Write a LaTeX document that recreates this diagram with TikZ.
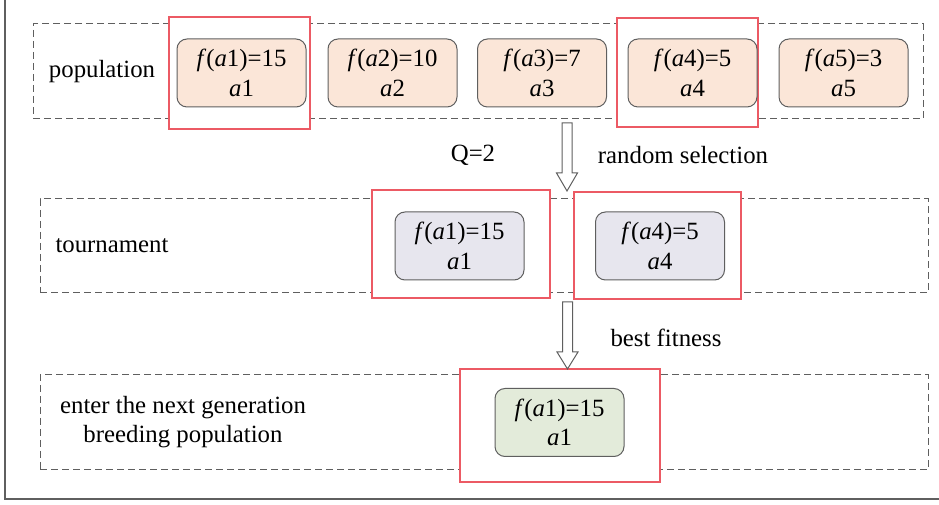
\documentclass[tikz,border=0pt]{standalone}
\usepackage{fontspec}
\setmainfont{Liberation Serif}
\usetikzlibrary{fit}
\definecolor{redline}{RGB}{236,90,100}
\definecolor{peach}{RGB}{251,230,216}
\definecolor{lav}{RGB}{231,230,238}
\definecolor{sage}{RGB}{227,235,218}
\definecolor{framegray}{RGB}{95,95,95}
\newcommand{\fsz}{\fontsize{18.6}{22}\selectfont}
\newcommand{\fv}[2]{\textit{f}(\textit{a}#1)=#2\\\textit{a}#1}
\tikzset{
  dashbox/.style={draw=framegray, dash pattern=on 5.25pt off 3pt, line width=0.75pt, inner sep=0pt},
  redbox/.style={draw=redline, fill=white, line width=0.9pt, inner sep=0pt},
  indiv/.style={draw=framegray, rounded corners=7.5pt, line width=0.75pt, minimum width=96.75pt, minimum height=51pt, align=center, font=\fsz, inner sep=0pt},
  lbl/.style={font=\fsz, align=center, inner sep=0pt},
  blockarrow/.style={draw=framegray, fill=white, line width=0.75pt, line join=miter},
  outerline/.style={draw=framegray, line width=1.1pt}
}
\begin{document}
\begin{tikzpicture}[x=0.75pt,y=-0.75pt]
\useasboundingbox (0,0) rectangle (939,505);
% outer frame (left and bottom)
\draw[outerline] (5,0) -- (5,499) -- (939,499);
% dashed rows
\node[dashbox, fit={(33,24) (923,119)}] (poprow) {};
\node[dashbox, fit={(40,199) (928,293)}] (tourrow) {};
\node[dashbox, fit={(40,375) (928,470)}] (nextrow) {};
% red highlight boxes
\node[redbox, fit={(169,17) (310,129)}] (r1) {};
\node[redbox, fit={(617,18) (758,127)}] (r4) {};
\node[redbox, fit={(372,190) (550,298)}] (t1) {};
\node[redbox, fit={(574,192) (741,299)}] (t4) {};
\node[redbox, fit={(460,369) (660,482)}] (b1) {};
% population individuals
\node[indiv, fill=peach] (p1) at (241.5,73) {\fv{1}{15}};
\node[indiv, fill=peach] (p2) at (392.5,73) {\fv{2}{10}};
\node[indiv, fill=peach] (p3) at (542,73) {\fv{3}{7}};
\node[indiv, fill=peach] (p4) at (692.5,73) {\fv{4}{5}};
\node[indiv, fill=peach] (p5) at (843.5,73) {\fv{5}{3}};
% tournament individuals
\node[indiv, fill=lav] (q1) at (459.5,246) {\fv{1}{15}};
\node[indiv, fill=lav] (q4) at (660,246) {\fv{4}{5}};
% next generation
\node[indiv, fill=sage] (n1) at (559.5,422.5) {\fv{1}{15}};
% labels
\node[lbl] (lpop) at (102,72) {population};
\node[lbl] (ltour) at (112,246) {tournament};
\node[lbl] (lnext) at (183,422) {enter the next generation\\breeding population};
\node[lbl] (lq) at (473,155) {Q=2};
\node[lbl] (lrand) at (683,155) {random selection};
\node[lbl] (lbest) at (666,338) {best fitness};
% block arrows
\coordinate (a1top) at (567,123);
\coordinate (a2top) at (567.5,302);
\draw[blockarrow] (a1top) ++(-5,0) -- ++(0,50) -- ++(-5.5,0) -- ++(10.5,18) -- ++(10.5,-18) -- ++(-5.5,0) -- ++(0,-50) -- cycle;
\draw[blockarrow] (a2top) ++(-5,0) -- ++(0,50) -- ++(-5.5,0) -- ++(10.5,17) -- ++(10.5,-17) -- ++(-5.5,0) -- ++(0,-50) -- cycle;
\end{tikzpicture}
\end{document}
